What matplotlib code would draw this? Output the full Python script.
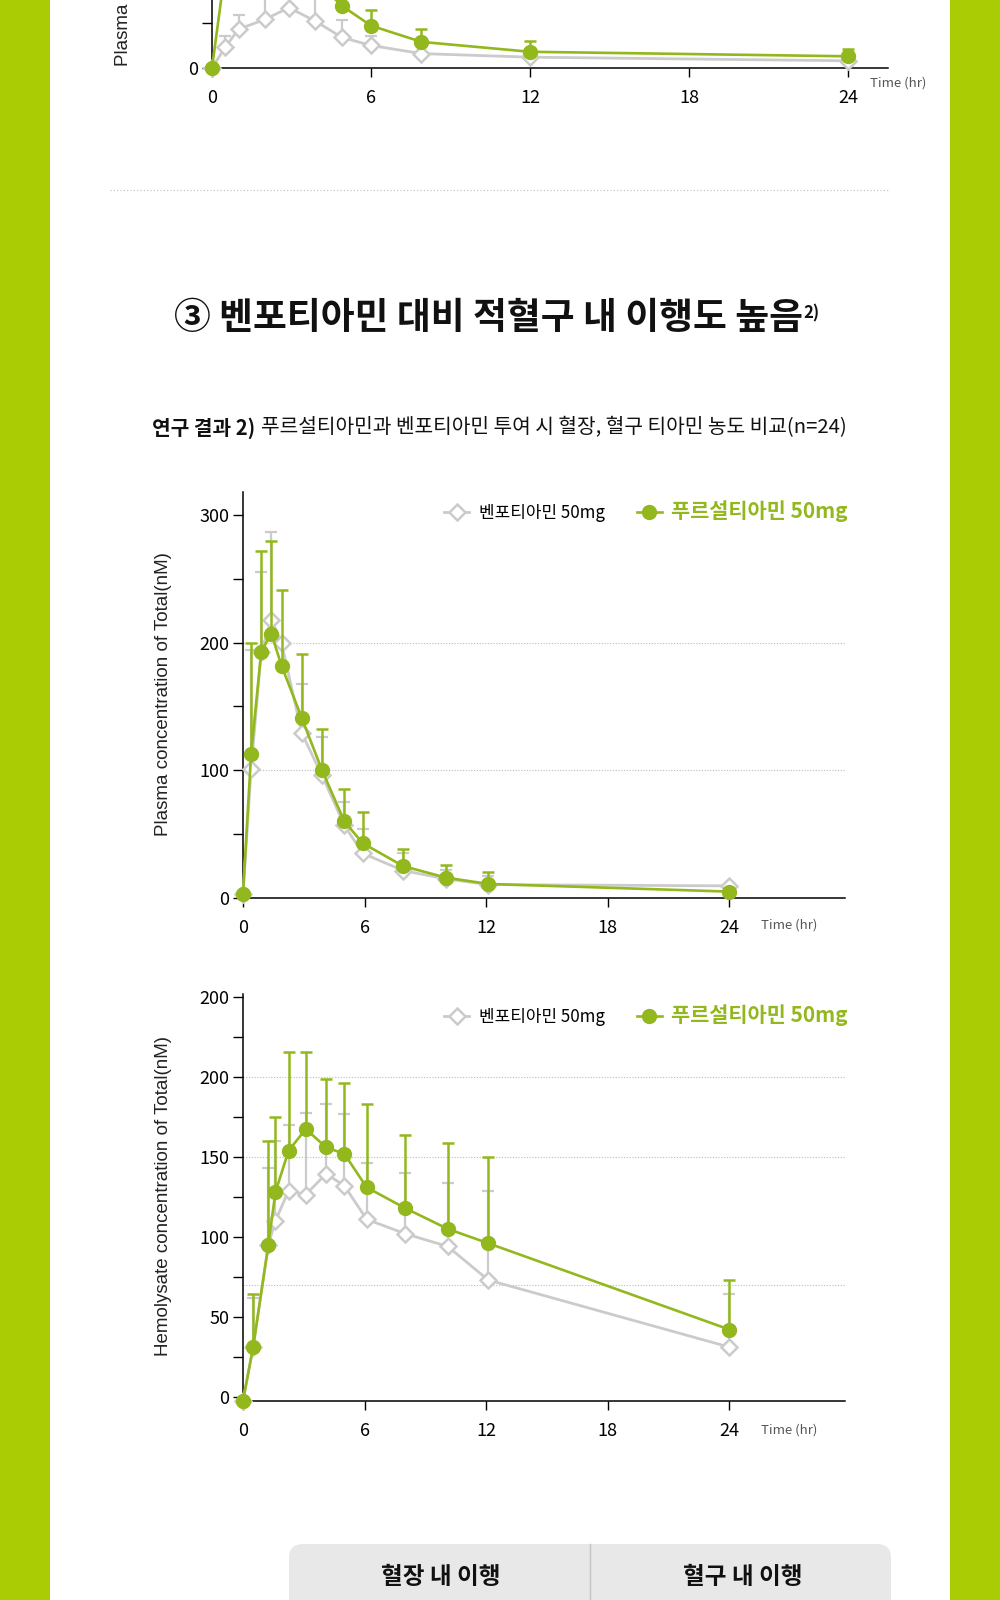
import matplotlib
matplotlib.use('Agg')
import matplotlib.pyplot as plt
import numpy as np
from matplotlib.patches import Rectangle, FancyBboxPatch

KR = 'Noto Sans CJK KR'
plt.rcParams['font.family'] = [KR, 'DejaVu Sans']

GREEN = '#92B81E'
BAND = '#A9CC05'
GRAY = '#CBCBCB'
GRID = '#BBBBBB'

nan = np.nan

# --- top chart (only its lower part is visible) ---
top_t_benf = [0, 0.5, 1, 2, 2.9, 3.9, 4.9, 6, 7.9, 12, 24]
top_benf = [0, 23, 43, 54, 67, 52, 34, 25, 16, 12, 8]
top_benf_hi = [nan, 35.5, 59, 78, 90, 85, 53, 35.5, nan, nan, nan]
top_t_furs = [0, 0.5, 1, 2, 3, 4, 4.9, 6, 7.9, 12, 24]
top_furs = [0, 110, 140, 150, 125, 95, 69, 47, 29, 18, 13]
top_furs_hi = [nan, nan, nan, nan, nan, nan, nan, 64.5, 43.5, 30, 21]

# --- plasma ---
plasma_t = [0, 0.4, 0.9, 1.4, 1.9, 2.9, 3.9, 5.0, 5.9, 7.9, 10.0, 12.1, 24.0]
plasma_furs = [3, 113, 193, 207, 182, 141, 100, 60, 43, 25, 16, 11, 5]
plasma_furs_hi = [nan, 200, 272, 280, 241, 191, 132, 85, 67, 38, 26, 20, nan]
plasma_benf = [3, 101, 193, 218, 200, 129, 96, 57, 35, 21.5, 15, 10.5, 9.5]
plasma_benf_hi = [nan, 194, 255, 287, nan, 168, 126, 75, 54, 35, 22, 17, nan]

# --- hemolysate ---
hemo_t = [0, 0.5, 1.25, 1.6, 2.25, 3.1, 4.1, 5.0, 6.1, 8.0, 10.1, 12.1, 24.0]
hemo_furs = [-2.5, 31, 95, 128, 154, 167.5, 156, 152, 131, 118, 105, 96, 42]
hemo_furs_hi = [nan, 64, 160, 175, 216, 216, 198.5, 196, 183, 164, 158.5, 150, 73]
hemo_benf = [-2.5, 31, 95, 110, 129, 126.5, 139.5, 132, 111, 102, 94, 73, 31]
hemo_benf_hi = [nan, 62, 143, 160, 170, 177.5, 183, 177, 146.5, 140, 134, 129, 64]

x_ticks = [0, 6, 12, 18, 24]
benf_label = '벤포티아민 50mg'
furs_label = '푸르설티아민 50mg'

W, H = 1000, 1600
fig = plt.figure(figsize=(10, 16), dpi=100)
bg = fig.add_axes([0, 0, 1, 1], zorder=-1)
bg.set_xlim(0, W)
bg.set_ylim(H, 0)
bg.axis('off')


def box(l, t, r, b):
    return [l / W, 1 - b / H, (r - l) / W, (b - t) / H]


def upper_err(ax, t, v, hi, color, lw, z):
    t, v, hi = np.array(t), np.array(v), np.array(hi)
    m = ~np.isnan(hi)
    ax.errorbar(t[m], v[m], yerr=[np.zeros(m.sum()), hi[m] - v[m]], fmt='none',
                ecolor=color, elinewidth=lw, capsize=4, capthick=lw, zorder=z)


def draw_series(ax, tb, vb, hb, tf, vf, hf):
    upper_err(ax, tb, vb, hb, GRAY, 1.6, 2)
    lb, = ax.plot(tb, vb, color=GRAY, lw=2.0, marker='D', ms=8, mfc='white',
                  mec=GRAY, mew=1.8, zorder=3, clip_on=False, label=benf_label)
    upper_err(ax, tf, vf, hf, GREEN, 1.8, 4)
    lf, = ax.plot(tf, vf, color=GREEN, lw=1.9, marker='o', ms=10, mec=GREEN,
                  zorder=5, clip_on=False, label=furs_label)
    return lb, lf


def style_axes(ax):
    ax.set_facecolor('none')
    for s in ['top', 'right']:
        ax.spines[s].set_visible(False)
    for s in ['left', 'bottom']:
        ax.spines[s].set_linewidth(1.1)
    ax.set_xticks(x_ticks)
    ax.set_xticklabels([str(x) for x in x_ticks])
    ax.tick_params(axis='x', length=6.5, width=1, pad=8.5, labelsize=13)
    ax.tick_params(axis='y', length=7, width=1, pad=3, labelsize=13)


def add_legend(ax, handles, y):
    leg = ax.legend(handles=handles, ncol=2, loc='center right', bbox_to_anchor=(1.005, y),
                    frameon=False, borderpad=0, borderaxespad=0, handlelength=1.5,
                    handletextpad=0.55, columnspacing=1.9, prop={'family': KR, 'size': 12.2})
    t2 = leg.get_texts()[1]
    t2.set_fontsize(15)
    t2.set_fontweight('bold')
    t2.set_color(GREEN)


# side bands
bg.add_patch(Rectangle((0, 0), 50, H, color=BAND, lw=0))
bg.add_patch(Rectangle((950, 0), 50, H, color=BAND, lw=0))

# ---- top chart (cut off) ----
ax0 = fig.add_axes(box(212, -150, 888, 68))
style_axes(ax0)
draw_series(ax0, top_t_benf, top_benf, top_benf_hi, top_t_furs, top_furs, top_furs_hi)
ax0.set_xlim(0, 25.5)
ax0.set_ylim(0, 242)
ax0.set_yticks([0, 50])
ax0.set_yticklabels(['0', ''])
bg.text(898, 83, 'Time (hr)', ha='center', va='center', fontsize=9.5, color='#555555')
bg.text(123, -76, 'Plasma concentration of Total(nM)', rotation=90, ha='center', va='center',
        fontsize=13.5, family='Liberation Sans', color='#222222')

# separator
bg.plot([110, 888], [190, 190], ls=(0, (1, 2)), color=GRID, lw=0.8)

# title
title = bg.text(488, 318, '③ 벤포티아민 대비 적혈구 내 이행도 높음', ha='center', va='center',
                fontsize=26.5, fontweight='bold', color='#111111')
sub1 = bg.text(152, 428, '연구 결과 2)', ha='left', va='center', fontsize=14.6,
               fontweight='bold', color='#111111')
fig.canvas.draw()
rend = fig.canvas.get_renderer()
inv = bg.transData.inverted()
bb = title.get_window_extent(rend)
(x0, y0), (x1, y1) = inv.transform([[bb.x0, bb.y0], [bb.x1, bb.y1]])
bg.text(x1 + 1, y1 + 5, '2)', ha='left', va='top', fontsize=12, fontweight='bold', color='#111111')
bb = sub1.get_window_extent(rend)
(x0, y0), (x1, y1) = inv.transform([[bb.x0, bb.y0], [bb.x1, bb.y1]])
bg.text(x1 + 6, 428, '푸르설티아민과 벤포티아민 투여 시 혈장, 혈구 티아민 농도 비교(n=24)',
        ha='left', va='center', fontsize=14.6, color='#111111')

# ---- plasma chart ----
ax1 = fig.add_axes(box(243, 492, 845, 898))
style_axes(ax1)
for g in [100, 200]:
    ax1.axhline(g, color=GRID, lw=0.8, ls=(0, (1, 1.5)), zorder=0)
h1 = draw_series(ax1, plasma_t, plasma_benf, plasma_benf_hi, plasma_t, plasma_furs, plasma_furs_hi)
ax1.set_xlim(0, 29.7)
ax1.set_ylim(0, 318)
ax1.set_yticks([0, 50, 100, 150, 200, 250, 300])
ax1.set_yticklabels(['0', '', '100', '', '200', '', '300'])
add_legend(ax1, list(h1), 0.953)
bg.text(789, 925, 'Time (hr)', ha='center', va='center', fontsize=9.5, color='#555555')
bg.text(163, 694, 'Plasma concentration of Total(nM)', rotation=90, ha='center', va='center',
        fontsize=13.5, family='Liberation Sans', color='#222222')

# ---- hemolysate chart ----
ax2 = fig.add_axes(box(243, 994, 845, 1401))
style_axes(ax2)
for g in [70, 150, 200]:
    ax2.axhline(g, color=GRID, lw=0.8, ls=(0, (1, 1.5)), zorder=0)
h2 = draw_series(ax2, hemo_t, hemo_benf, hemo_benf_hi, hemo_t, hemo_furs, hemo_furs_hi)
ax2.set_xlim(0, 29.7)
ax2.set_ylim(-2.7, 252)
ax2.set_yticks([0, 25, 50, 75, 100, 125, 150, 175, 200, 225, 250])
ax2.set_yticklabels(['0', '', '50', '', '100', '', '150', '', '200', '', '200'])
add_legend(ax2, list(h2), 0.948)
bg.text(789, 1430, 'Time (hr)', ha='center', va='center', fontsize=9.5, color='#555555')
bg.text(163, 1196, 'Hemolysate concentration of Total(nM)', rotation=90, ha='center', va='center',
        fontsize=13.5, family='Liberation Sans', color='#222222')

# ---- bottom tabs ----
bg.add_patch(FancyBboxPatch((289, 1544), 602, 120, boxstyle='round,pad=0,rounding_size=14',
                            fc='#E8E8E8', ec='none'))
bg.plot([590, 590], [1544, 1600], color='#C4C4C4', lw=1)
bg.text(441, 1577, '혈장 내 이행', ha='center', va='center', fontsize=17, fontweight='bold', color='#111111')
bg.text(743, 1577, '혈구 내 이행', ha='center', va='center', fontsize=17, fontweight='bold', color='#111111')

fig.savefig('out.png', dpi=100)
